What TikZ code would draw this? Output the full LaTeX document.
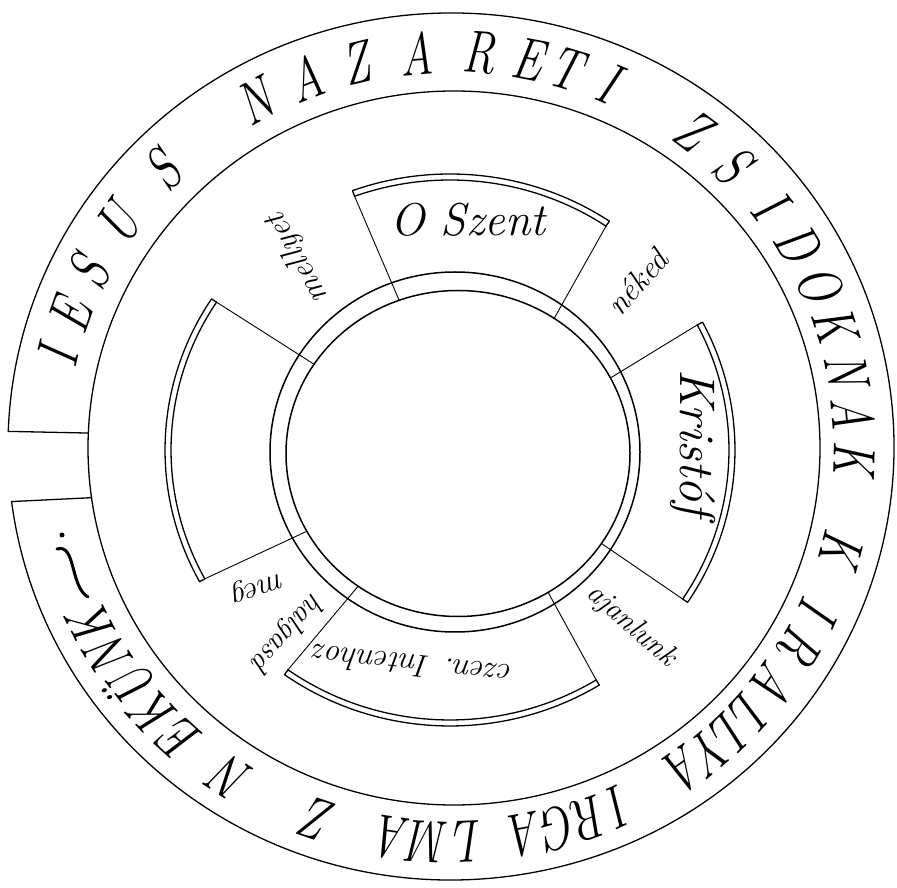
\documentclass[tikz,border=0pt]{standalone}
\usepackage{fontspec}
\begin{document}
\begin{tikzpicture}[x=1pt,y=1pt,line cap=round,line join=round,
  band/.style={font=\fontsize{60}{60}\selectfont\itshape,inner sep=0pt,anchor=center},
  lab/.style={font=\fontsize{32}{32}\selectfont\itshape,inner sep=0pt,anchor=center},
  boxlab/.style={font=\fontsize{46}{46}\selectfont\itshape,inner sep=0pt,anchor=center},
  ringline/.style={line width=1.3pt},
  thinline/.style={line width=0.9pt}]
\fill[white] (0,0) rectangle (897,887);
\useasboundingbox (0,0) rectangle (897,887);

% outer circle with a gap on the left
\draw[ringline] ([shift={(451,440.5)}]187.3:443 and 433.5)
  arc[start angle=187.3,end angle=538,x radius=443,y radius=433.5];
% second circle
\draw[ringline] (454,439) ellipse [x radius=366,y radius=357];
% closing lines of the gap
\coordinate (gu1) at ([shift={(451,440.5)}]178:443 and 433.5);
\coordinate (gu2) at ([shift={(454,439)}]177.6:366 and 357);
\coordinate (gl1) at ([shift={(451,440.5)}]187.3:443 and 433.5);
\coordinate (gl2) at ([shift={(454,439)}]188:366 and 357);
\draw[ringline] (gu1) -- (gu2);
\draw[ringline] (gl1) -- (gl2);

% inner double ring
\draw[line width=1.5pt] (455,435) ellipse [x radius=185,y radius=180];
\draw[line width=1.5pt] (458,433.5) ellipse [x radius=172,y radius=163];

% the four boxes
\newcommand\sectorbox[2]{%
  \draw[thinline] ([shift={(458,433.5)}]#1:172 and 163) -- ([shift={(450,437)}]#1:279 and 270);
  \draw[thinline] ([shift={(458,433.5)}]#2:172 and 163) -- ([shift={(450,437)}]#2:279 and 270);
  \draw[ringline] ([shift={(450,437)}]#1:279 and 270)
     arc[start angle=#1,end angle=#2,x radius=279,y radius=270];
  \draw[ringline] ([shift={(450,437)}]#1:279 and 270) -- ([shift={(450,437)}]#1:285 and 276)
     arc[start angle=#1,end angle=#2,x radius=285,y radius=276]
     -- ([shift={(450,437)}]#2:279 and 270);
}
\sectorbox{56}{110}
\sectorbox{-33.5}{27.6}
\sectorbox{-125.5}{-58.4}
\sectorbox{146.8}{208.5}

% outer band lettering
\foreach \l/\a in {I/166.8,E/160.5,S/153.8,U/145.5,S/135.5,
  N/119,A/111.2,Z/103.6,A/95,R/86,E/79,T/73.5,I/67,
  Z/53.2,S/45.7,I/37.8,D/31,O/24.4,K/18.1,N/11.2,A/4.9,K/-1.6,
  K/-14.8,I/-24.3,R/-30.1,A/-36.8,L/-42.3,L/-46.3,Y/-50,A/-54.5,
  I/-65.2,R/-69.8,G/-74.4,A/-79.2,L/-87.6,M/-93,A/-98.3,Z/-109,
  N/-123,E/-132,K/-137.3,Ü/-142.3,N/-147.8,K/-152.9}
  \node[band,rotate=\a-90] at ([shift={(451,440)}]\a:404 and 395) {\scalebox{0.76}[1]{\l}};
% closing flourish
\draw[line width=3pt] (57,338) .. controls (76,344) and (70,300) .. (88,290);
\fill (62,352) circle (2.5);

% box texts
\node[boxlab] (oszent) at (468,667) {O Szent};
\node[boxlab,font=\fontsize{50}{50}\selectfont\itshape,rotate=-90] (kristof) at (693,444) {Kristóf};
\node[lab,rotate=174] (czen) at (413,221) {czen. Intenhoz};
% labels between boxes
\node[lab,rotate=48] (neked) at (637,605) {néked};
\node[lab,font=\fontsize{30}{30}\selectfont\itshape,rotate=-41] (ajan) at (631,261) {ajanlunk};
\node[lab,rotate=198] (meg) at (258,302) {meg};
\node[lab,font=\fontsize{30}{30}\selectfont\itshape,rotate=228] (halg) at (287,255) {halgasd};
\node[lab,rotate=119] (mellyet) at (298,629) {mellyet};
\end{tikzpicture}
\end{document}
